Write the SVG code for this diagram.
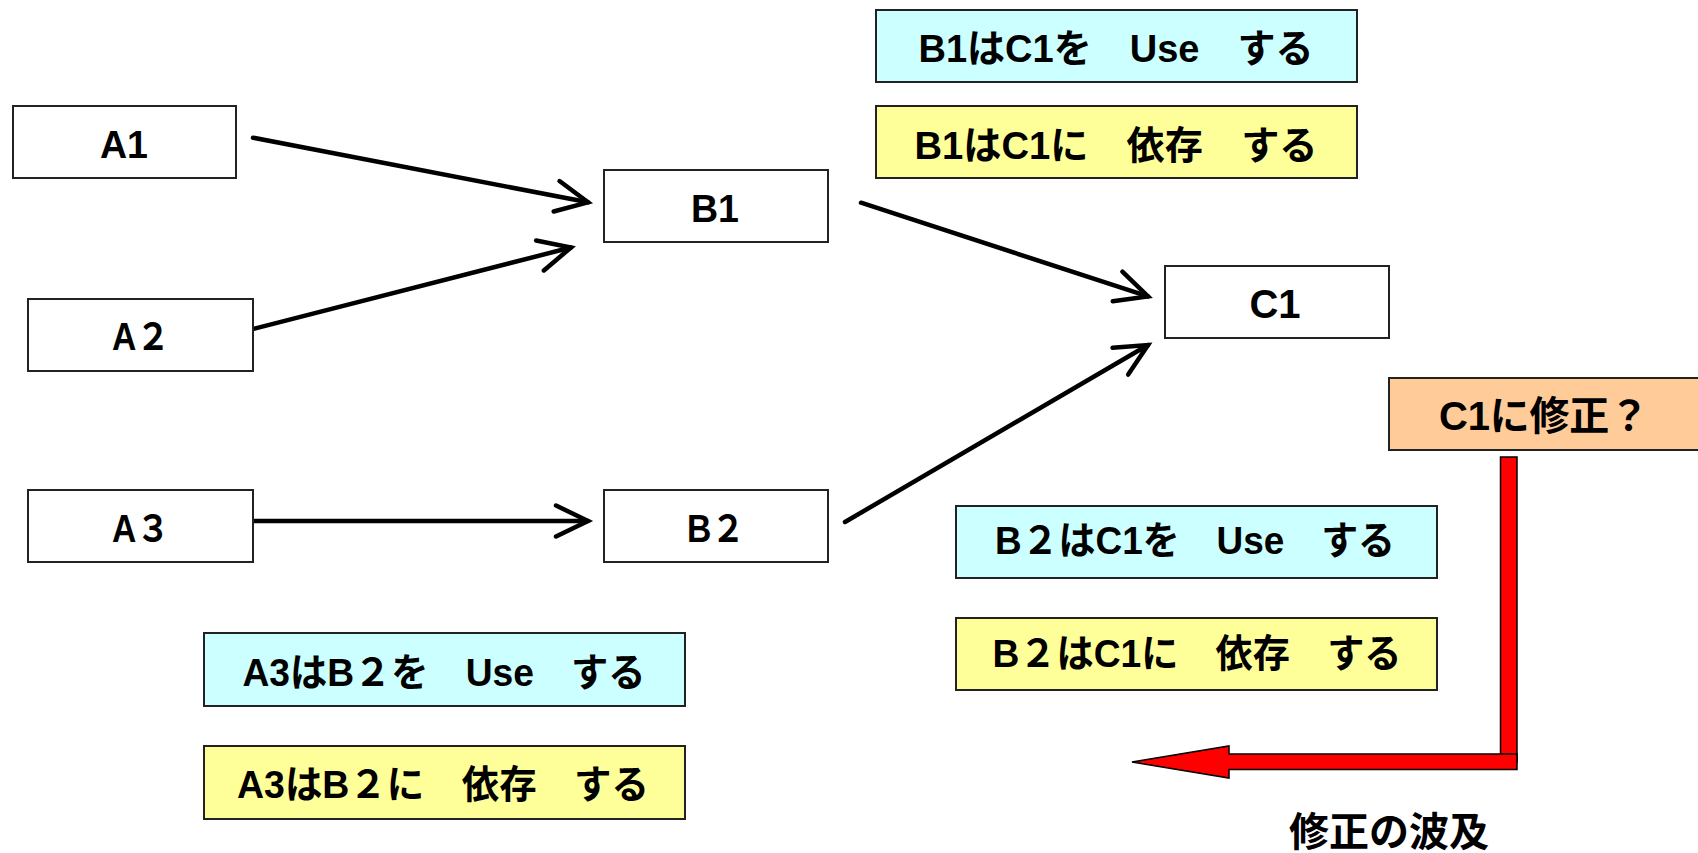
<svg xmlns="http://www.w3.org/2000/svg" width="1698" height="853" viewBox="0 0 1698 853">
<defs>
<style>
.node rect{fill:#fff;stroke:#222;stroke-width:2}
.cyan rect{fill:#CCFFFF;stroke:#222;stroke-width:2}
.yellow rect{fill:#FFFF99;stroke:#222;stroke-width:2}
.orange rect{fill:#FFCC99;stroke:#222;stroke-width:2}
text{font-family:"Liberation Sans","Noto Sans CJK JP",sans-serif;font-weight:bold;fill:#000;text-anchor:middle}
.lbl{font-size:38px}
.note{font-size:39px}
.conn line{stroke:#000;stroke-width:4.5;stroke-linecap:round;fill:none}
</style>
<marker id="open" markerUnits="userSpaceOnUse" viewBox="-40 -20 44 40" refX="0" refY="0" markerWidth="44" markerHeight="40" orient="auto" overflow="visible">
<path d="M -32 -15.5 L 0 0 L -32 15.5" fill="none" stroke="#000" stroke-width="4.5" stroke-linecap="round" stroke-linejoin="miter"/>
</marker>
</defs>
<rect width="1698" height="853" fill="#fff"/>

<g id="connectors" class="conn">
<line x1="253" y1="137.7" x2="588" y2="202.3" marker-end="url(#open)"/>
<line x1="253" y1="329" x2="571" y2="247.5" marker-end="url(#open)"/>
<line x1="253" y1="521" x2="588" y2="521" marker-end="url(#open)"/>
<line x1="861" y1="202.7" x2="1148" y2="296.4" marker-end="url(#open)"/>
<line x1="845" y1="522" x2="1148" y2="345" marker-end="url(#open)"/>
</g>

<g id="A1" class="node"><rect x="13" y="106" width="223" height="72"/><text class="lbl" x="124" y="158" textLength="48" lengthAdjust="spacingAndGlyphs">A1</text></g>
<g id="A2" class="node"><rect x="28" y="299" width="225" height="72"/><text class="lbl" x="141" y="350" textLength="58" lengthAdjust="spacingAndGlyphs">A２</text></g>
<g id="A3" class="node"><rect x="28" y="490" width="225" height="72"/><text class="lbl" x="141" y="542" textLength="58" lengthAdjust="spacingAndGlyphs">A３</text></g>
<g id="B1" class="node"><rect x="604" y="170" width="224" height="72"/><text class="lbl" x="715" y="222" textLength="48" lengthAdjust="spacingAndGlyphs">B1</text></g>
<g id="B2" class="node"><rect x="604" y="490" width="224" height="72"/><text class="lbl" x="716" y="542" textLength="58" lengthAdjust="spacingAndGlyphs">B２</text></g>
<g id="C1" class="node"><rect x="1165" y="266" width="224" height="72"/><text class="lbl" x="1275" y="318" style="font-size:40px">C1</text></g>

<g id="note-b1-use" class="cyan"><rect x="876" y="10" width="481" height="72"/><text class="note" x="1116" y="62" textLength="395" lengthAdjust="spacingAndGlyphs">B1はC1を　Use　する</text></g>
<g id="note-b1-dep" class="yellow"><rect x="876" y="106" width="481" height="72"/><text class="note" x="1116" y="159" textLength="403" lengthAdjust="spacingAndGlyphs">B1はC1に　依存　する</text></g>
<g id="note-b2-use" class="cyan"><rect x="956" y="506" width="481" height="72"/><text class="note" x="1195" y="554" textLength="400" lengthAdjust="spacingAndGlyphs">B２はC1を　Use　する</text></g>
<g id="note-b2-dep" class="yellow"><rect x="956" y="618" width="481" height="72"/><text class="note" x="1197" y="667" textLength="409" lengthAdjust="spacingAndGlyphs">B２はC1に　依存　する</text></g>
<g id="note-a3-use" class="cyan"><rect x="204" y="633" width="481" height="73"/><text class="note" x="444" y="686" textLength="403" lengthAdjust="spacingAndGlyphs">A3はB２を　Use　する</text></g>
<g id="note-a3-dep" class="yellow"><rect x="204" y="746" width="481" height="73"/><text class="note" x="443" y="798" textLength="412" lengthAdjust="spacingAndGlyphs">A3はB２に　依存　する</text></g>

<g id="c1-change" class="orange"><rect x="1389" y="378" width="320" height="72"/><text x="1544" y="430" style="font-size:40px" textLength="210">C1に修正？</text></g>

<g id="ripple">
<rect x="1500.5" y="457" width="16.5" height="305" fill="#FF0000" stroke="#000" stroke-width="1.5"/>
<polygon points="1517,754 1229,754 1229,746 1132,762 1229,778 1229,769.5 1517,769.5" fill="#FF0000" stroke="#000" stroke-width="1.5" stroke-linejoin="miter"/>
<text x="1389" y="846" style="font-size:40px">修正の波及</text>
</g>
</svg>
